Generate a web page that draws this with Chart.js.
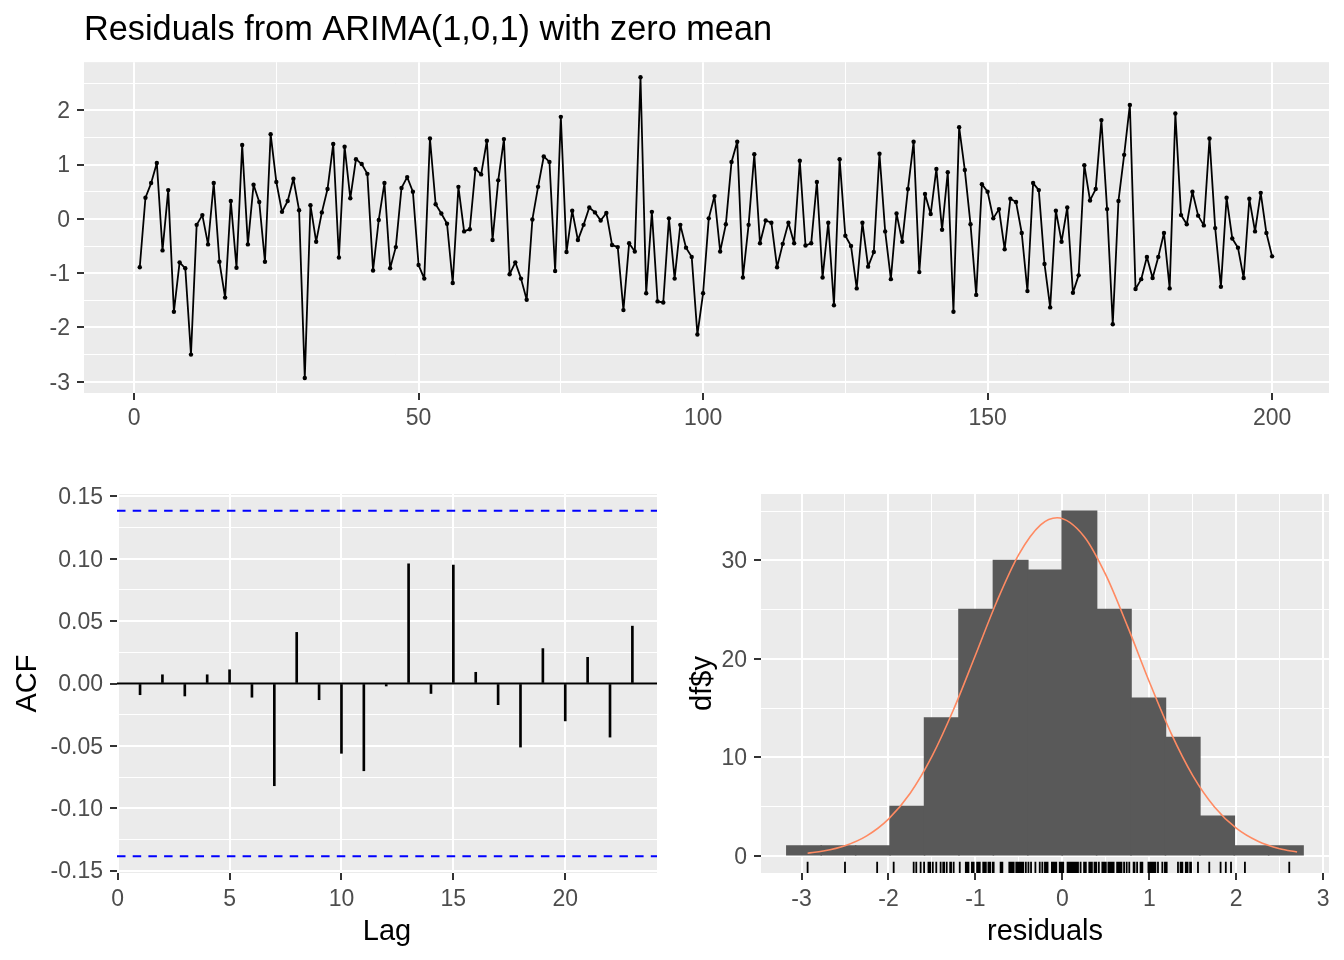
<!DOCTYPE html>
<html><head><meta charset="utf-8">
<script src="https://cdn.jsdelivr.net/npm/chart.js@4.4.0/dist/chart.umd.min.js"></script>
<style>
html,body{margin:0;padding:0;background:#fff;}
canvas{position:absolute;}
</style></head><body>
<canvas id="ts" width="1344" height="450" style="left:0;top:0"></canvas>
<canvas id="acf" width="680" height="500" style="left:0;top:460px"></canvas>
<canvas id="hist" width="664" height="500" style="left:680px;top:460px"></canvas>
<script>
const FONT = "'Liberation Sans', Arial, sans-serif";

// ---- data ----
const residuals = [
 -0.89, 0.39, 0.66, 1.03, -0.58, 0.53, -1.71, -0.80, -0.91, -2.50,
 -0.11, 0.07, -0.47, 0.66, -0.79, -1.45, 0.33, -0.90, 1.36, -0.47,
 0.63, 0.31, -0.79, 1.56, 0.68, 0.13, 0.33, 0.74, 0.16, -2.93,
 0.25, -0.42, 0.12, 0.55, 1.38, -0.71, 1.33, 0.38, 1.10, 1.01,
 0.83, -0.95, -0.02, 0.66, -0.91, -0.52, 0.57, 0.77, 0.50, -0.85,
 -1.10, 1.48, 0.27, 0.10, -0.09, -1.18, 0.59, -0.23, -0.19, 0.92,
 0.82, 1.44, -0.39, 0.71, 1.47, -1.02, -0.80, -1.10, -1.49, -0.01,
 0.59, 1.15, 1.05, -0.96, 1.88, -0.61, 0.15, -0.39, -0.11, 0.21,
 0.12, -0.03, 0.11, -0.48, -0.52, -1.68, -0.45, -0.60, 2.61, -1.37,
 0.13, -1.52, -1.54, 0.01, -1.10, -0.11, -0.53, -0.70, -2.13, -1.37,
 0.01, 0.42, -0.60, -0.10, 1.05, 1.42, -1.08, -0.11, 1.19, -0.45,
 -0.03, -0.07, -0.89, -0.46, -0.07, -0.45, 1.07, -0.49, -0.45, 0.68,
 -1.08, -0.07, -1.59, 1.10, -0.31, -0.50, -1.28, -0.07, -0.88, -0.61,
 1.20, -0.23, -1.11, 0.10, -0.42, 0.55, 1.42, -0.98, 0.46, 0.09,
 0.92, -0.20, 0.86, -1.71, 1.69, 0.90, -0.10, -1.40, 0.64, 0.50,
 0.01, 0.18, -0.56, 0.37, 0.31, -0.26, -1.33, 0.66, 0.53, -0.83,
 -1.63, 0.15, -0.42, 0.21, -1.36, -1.04, 0.99, 0.34, 0.55, 1.82,
 0.18, -1.94, 0.33, 1.18, 2.10, -1.29, -1.11, -0.70, -1.09, -0.70,
 -0.26, -1.28, 1.94, 0.07, -0.10, 0.50, 0.06, -0.12, 1.48, -0.17,
 -1.25, 0.39, -0.36, -0.53, -1.09, 0.37, -0.23, 0.48, -0.26, -0.69
];
const timeIndex = residuals.map((_, i) => i + 1);

const acfLags = [1,2,3,4,5,6,7,8,9,10,11,12,13,14,15,16,17,18,19,20,21,22,23];
const acfValues = [-0.009, 0.007, -0.010, 0.007, 0.011, -0.011, -0.082, 0.041, -0.013, -0.056,
  -0.070, -0.002, 0.096, -0.008, 0.095, 0.009, -0.017, -0.051, 0.028, -0.030, 0.021, -0.043, 0.046];
const acfCiLimit = 0.1386;

const histBinCenters = [-2.971, -2.575, -2.179, -1.783, -1.387, -0.991, -0.595, -0.199,
  0.196, 0.592, 0.988, 1.384, 1.780, 2.175, 2.571];
const histCounts = [1, 1, 1, 5, 14, 25, 30, 29, 35, 25, 16, 12, 4, 1, 1];

const normalCurveX = [-2.93, -2.75, -2.5, -2.25, -2.0, -1.75, -1.5, -1.25, -1.0, -0.75, -0.5, -0.25,
  -0.06, 0.25, 0.5, 0.75, 1.0, 1.25, 1.5, 1.75, 2.0, 2.25, 2.5, 2.7];
const normalCurveY = [0.26, 0.48, 1.02, 2.02, 3.72, 6.35, 10.09, 14.88, 20.37, 25.91, 30.62, 33.61,
  34.33, 32.44, 28.53, 23.30, 17.68, 12.46, 8.15, 4.96, 2.80, 1.47, 0.71, 0.38];

// ---- tick values and labels ('' = minor gridline only) ----
const tsXTickValues = [0, 25, 50, 75, 100, 125, 150, 175, 200];
const tsXTickLabels = ['0', '', '50', '', '100', '', '150', '', '200'];
const tsYTickValues = [-3, -2.5, -2, -1.5, -1, -0.5, 0, 0.5, 1, 1.5, 2, 2.5];
const tsYTickLabels = ['-3', '', '-2', '', '-1', '', '0', '', '1', '', '2', ''];

const acfXTickValues = [0, 5, 10, 15, 20];
const acfXTickLabels = ['0', '5', '10', '15', '20'];
const acfYTickValues = [-0.15, -0.125, -0.1, -0.075, -0.05, -0.025, 0, 0.025, 0.05, 0.075, 0.1, 0.125, 0.15];
const acfYTickLabels = ['-0.15', '', '-0.10', '', '-0.05', '', '0.00', '', '0.05', '', '0.10', '', '0.15'];

const histXTickValues = [-3, -2.5, -2, -1.5, -1, -0.5, 0, 0.5, 1, 1.5, 2, 2.5, 3];
const histXTickLabels = ['-3', '', '-2', '', '-1', '', '0', '', '1', '', '2', '', '3'];
const histYTickValues = [0, 5, 10, 15, 20, 25, 30, 35];
const histYTickLabels = ['0', '', '10', '', '20', '', '30', ''];

// axis ranges
const tsXRange = [-8.8, 210.0], tsYRange = [-3.207, 2.887];
const acfXRange = [-0.03, 24.1], acfYRange = [-0.152, 0.152];
const histXRange = [-3.466, 3.067], histYRange = [-1.75, 36.75];

// ---- helpers ----
function fixedTicks(values, labels) {
  return function (scale) {
    scale.ticks = values.map((v, i) => ({ value: v, txt: labels[i], isMajor: labels[i] !== '' }));
  };
}
function axis(values, labels, range, extra) {
  const base = {
    type: 'linear', min: range[0], max: range[1], offset: false,
    afterBuildTicks: fixedTicks(values, labels),
    border: { display: false },
    grid: {
      offset: false,
      color: '#FFFFFF',
      lineWidth: c => (c.tick && c.tick.isMajor) ? 2 : 1,
      tickColor: c => (c.tick && c.tick.isMajor) ? '#333333' : 'rgba(0,0,0,0)',
      tickWidth: 2, tickLength: 7, drawTicks: true, drawOnChartArea: true
    },
    ticks: {
      autoSkip: false, maxRotation: 0, minRotation: 0,
      color: '#4D4D4D', font: { size: 23, family: FONT },
      callback: (v, i, t) => t[i].txt
    }
  };
  const ex = Object.assign({}, extra || {});
  const tp = ex.ticksPadding, lo = ex.labelOffset;
  delete ex.ticksPadding; delete ex.labelOffset;
  const out = Object.assign(base, ex);
  if (tp !== undefined) out.ticks.padding = tp;
  if (lo !== undefined) out.ticks.labelOffset = lo;
  return out;
}
const panelBg = {
  id: 'panelBg',
  beforeDraw(chart) {
    const { ctx, chartArea: a } = chart;
    ctx.save();
    ctx.fillStyle = '#EBEBEB';
    ctx.fillRect(a.left, a.top, a.right - a.left, a.bottom - a.top);
    ctx.restore();
  }
};
const rugPlugin = {
  id: 'rug',
  afterDatasetsDraw(chart) {
    const { ctx, chartArea: a, scales } = chart;
    const len = 0.03 * (a.bottom - a.top);
    ctx.save();
    ctx.strokeStyle = '#000000';
    ctx.lineWidth = 1.8;
    ctx.beginPath();
    residuals.forEach(v => {
      const px = scales.x.getPixelForValue(v);
      ctx.moveTo(px, a.bottom);
      ctx.lineTo(px, a.bottom - len);
    });
    ctx.stroke();
    ctx.restore();
  }
};
const axisTitle = (text, pad) => ({ display: true, text, color: '#000000', font: { size: 29, family: FONT }, padding: pad });
const common = { responsive: false, animation: false, events: [] };
const noPlug = { legend: { display: false }, tooltip: { enabled: false } };

// ---- top: residual time series ----
new Chart(document.getElementById('ts'), {
  type: 'line',
  data: {
    datasets: [{
      data: residuals.map((v, i) => ({ x: timeIndex[i], y: v })),
      borderColor: '#000000', borderWidth: 1.8, tension: 0, borderJoinStyle: 'round', borderCapStyle: 'round',
      pointRadius: 2.2, pointBackgroundColor: '#000000', pointBorderWidth: 0, pointHoverRadius: 0
    }]
  },
  options: Object.assign({}, common, {
    layout: { padding: { right: 15 } },
    plugins: Object.assign({}, noPlug, {
      title: {
        display: true, text: 'Residuals from ARIMA(1,0,1) with zero mean', align: 'start', fullSize: false,
        color: '#000000', font: { size: 34.3, family: FONT, weight: 'normal' }, padding: { top: 10, bottom: 11 }
      }
    }),
    scales: {
      x: axis(tsXTickValues, tsXTickLabels, tsXRange, { afterFit: s => { s.height = 57; }, ticksPadding: 5 }),
      y: axis(tsYTickValues, tsYTickLabels, tsYRange, { afterFit: s => { s.width = 84; }, ticksPadding: 7, labelOffset: 1.5 })
    }
  }),
  plugins: [panelBg]
});

// ---- bottom left: ACF ----
new Chart(document.getElementById('acf'), {
  type: 'bar',
  data: {
    datasets: [
      { type: 'line', data: [{ x: acfXRange[0], y: 0 }, { x: acfXRange[1], y: 0 }], borderColor: '#000000', borderWidth: 2, pointRadius: 0 },
      { type: 'bar', data: acfLags.map((l, i) => ({ x: l, y: acfValues[i] })), backgroundColor: '#000000', barThickness: 2 },
      { type: 'line', data: [{ x: acfXRange[0], y: acfCiLimit }, { x: acfXRange[1], y: acfCiLimit }], borderColor: '#0000FF', borderWidth: 2, borderDash: [8.5, 7.2], pointRadius: 0 },
      { type: 'line', data: [{ x: acfXRange[0], y: -acfCiLimit }, { x: acfXRange[1], y: -acfCiLimit }], borderColor: '#0000FF', borderWidth: 2, borderDash: [8.5, 7.2], pointRadius: 0 }
    ]
  },
  options: Object.assign({}, common, {
    layout: { padding: { top: 34, right: 23 } },
    plugins: noPlug,
    scales: {
      x: axis(acfXTickValues, acfXTickLabels, acfXRange, { afterFit: s => { s.height = 87; }, ticksPadding: 6, title: axisTitle('Lag', { top: 0, bottom: 11 }) }),
      y: axis(acfYTickValues, acfYTickLabels, acfYRange, { afterFit: s => { s.width = 117; }, ticksPadding: 7, labelOffset: 1.5, title: axisTitle('ACF', { top: 11, bottom: 0 }) })
    }
  }),
  plugins: [panelBg]
});

// ---- bottom right: histogram ----
new Chart(document.getElementById('hist'), {
  type: 'bar',
  data: {
    datasets: [
      { type: 'line', data: normalCurveX.map((x, i) => ({ x, y: normalCurveY[i] })), borderColor: '#FF8A62', borderWidth: 1.6, pointRadius: 0, cubicInterpolationMode: 'monotone' },
      { type: 'bar', data: histBinCenters.map((c, i) => ({ x: c, y: histCounts[i] })), backgroundColor: '#595959', borderColor: '#595959', borderWidth: 0, inflateAmount: 0.8, barPercentage: 1, categoryPercentage: 1 }
    ]
  },
  options: Object.assign({}, common, {
    layout: { padding: { top: 34, right: 15 } },
    plugins: noPlug,
    scales: {
      x: axis(histXTickValues, histXTickLabels, histXRange, { afterFit: s => { s.height = 87; }, ticksPadding: 6, title: axisTitle('residuals', { top: 0, bottom: 11 }) }),
      y: axis(histYTickValues, histYTickLabels, histYRange, { afterFit: s => { s.width = 81; }, ticksPadding: 7, labelOffset: 1.5, title: axisTitle('df$y', { top: 5.6, bottom: 0 }) })
    }
  }),
  plugins: [panelBg, rugPlugin]
});
</script>
</body></html>
